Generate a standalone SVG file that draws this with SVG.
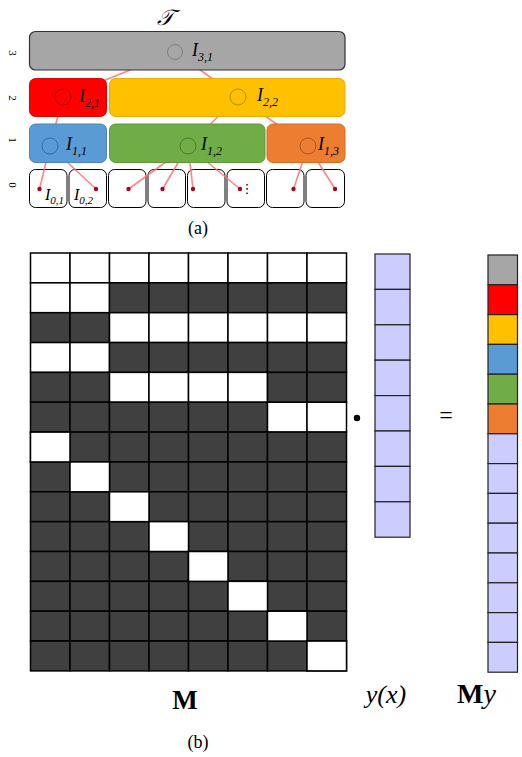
<svg xmlns="http://www.w3.org/2000/svg" width="522" height="757" viewBox="0 0 522 757">
<style>
.lbl{font-family:"Liberation Serif","DejaVu Serif",serif;font-style:italic;fill:#000}
.lvl{font-family:"Liberation Serif",serif;font-size:11px;fill:#000}
.cap{font-family:"Liberation Serif",serif;font-size:18px;fill:#000}
.leaf{fill:#fff;stroke:#000;stroke-width:1}
.hc{fill:none;stroke-width:1}
.edge{stroke:#ff7070;stroke-width:1.6;stroke-opacity:0.85;fill:none}
.pt{fill:#b00020}
.w{fill:#fff;stroke:#000;stroke-width:1.5}
.d{fill:#404040;stroke:#000;stroke-width:1.5}
.yv{fill:#ccccff;stroke:#222;stroke-width:1.2}
.mv{stroke:#222;stroke-width:1.2}
</style>
<rect width="522" height="757" fill="#fff"/>

<text x="157" y="25" font-family="DejaVu Serif, serif" font-size="22" font-style="italic">𝒯</text>

<g id="levels">
<text class="lvl" transform="translate(9,53) rotate(90)" text-anchor="middle">3</text>
<text class="lvl" transform="translate(9,98) rotate(90)" text-anchor="middle">2</text>
<text class="lvl" transform="translate(9,140) rotate(90)" text-anchor="middle">1</text>
<text class="lvl" transform="translate(9,185) rotate(90)" text-anchor="middle">0</text>
</g>

<g id="leaves">
<rect class="leaf" x="29.5" y="169.5" width="37.5" height="38" rx="6"/>
<rect class="leaf" x="69" y="169.5" width="37.5" height="38" rx="6"/>
<rect class="leaf" x="108.5" y="169.5" width="37.5" height="38" rx="6"/>
<rect class="leaf" x="148" y="169.5" width="37.5" height="38" rx="6"/>
<rect class="leaf" x="187.5" y="169.5" width="37.5" height="38" rx="6"/>
<rect class="leaf" x="227" y="169.5" width="37.5" height="38" rx="6"/>
<rect class="leaf" x="266.5" y="169.5" width="37.5" height="38" rx="6"/>
<rect class="leaf" x="306" y="169.5" width="38.5" height="38" rx="6"/>
<text class="lbl" x="45" y="200" font-size="16">I<tspan font-size="11" dy="4">0,1</tspan></text>
<text class="lbl" x="74" y="200" font-size="16">I<tspan font-size="11" dy="4">0,2</tspan></text>
<text x="247" y="193" font-family="DejaVu Sans, sans-serif" font-size="13" text-anchor="middle">⋮</text>
</g>

<g id="connectors">
<line class="edge" x1="175" y1="52" x2="63" y2="97"/>
<line class="edge" x1="175" y1="52" x2="238" y2="97"/>
<line class="edge" x1="63" y1="97" x2="50" y2="146"/>
<line class="edge" x1="238" y1="97" x2="188" y2="146"/>
<line class="edge" x1="238" y1="97" x2="308" y2="146"/>
<line class="edge" x1="50" y1="146" x2="39.5" y2="189"/>
<line class="edge" x1="50" y1="146" x2="96" y2="189"/>
<line class="edge" x1="188" y1="146" x2="128.5" y2="189"/>
<line class="edge" x1="188" y1="146" x2="162.5" y2="189"/>
<line class="edge" x1="188" y1="146" x2="193" y2="189"/>
<line class="edge" x1="188" y1="146" x2="240" y2="189"/>
<line class="edge" x1="308" y1="146" x2="293.5" y2="189"/>
<line class="edge" x1="308" y1="146" x2="335" y2="189"/>
<circle class="pt" cx="39.5" cy="189" r="2.2"/>
<circle class="pt" cx="96" cy="189" r="2.2"/>
<circle class="pt" cx="128.5" cy="189" r="2.2"/>
<circle class="pt" cx="162.5" cy="189" r="2.2"/>
<circle class="pt" cx="193" cy="189" r="2.2"/>
<circle class="pt" cx="240" cy="189" r="2.2"/>
<circle class="pt" cx="293.5" cy="189" r="2.2"/>
<circle class="pt" cx="335" cy="189" r="2.2"/>
</g>

<g id="I31">
<rect x="29.5" y="31.5" width="315.5" height="38.5" rx="6" fill="#a6a6a6" stroke="#333" stroke-width="1.2"/>
<circle class="hc" cx="175" cy="52" r="7.5" stroke="#808080"/>
<text class="lbl" x="192" y="56" font-size="18">I<tspan font-size="12" dy="5">3,1</tspan></text>
</g>
<g id="I21">
<rect x="29.5" y="78.5" width="77" height="38" rx="6" fill="#ff0000" stroke="#e00000"/>
<circle class="hc" cx="63" cy="97" r="8" stroke="#a00000"/>
<text class="lbl" x="79" y="102" font-size="18">I<tspan font-size="12" dy="5">2,1</tspan></text>
</g>
<g id="I22">
<rect x="109.5" y="78.5" width="235.5" height="38" rx="6" fill="#ffc000" stroke="#e8ad00"/>
<circle class="hc" cx="238" cy="97" r="8" stroke="#b08a00"/>
<text class="lbl" x="257" y="101" font-size="18">I<tspan font-size="12" dy="5">2,2</tspan></text>
</g>
<g id="I11">
<rect x="29.5" y="124" width="77" height="38.5" rx="6" fill="#5b9bd5" stroke="#4a86c0"/>
<circle class="hc" cx="50" cy="146" r="8" stroke="#3a6a98"/>
<text class="lbl" x="66" y="150" font-size="18">I<tspan font-size="12" dy="5">1,1</tspan></text>
</g>
<g id="I12">
<rect x="109.5" y="124" width="155.5" height="38.5" rx="6" fill="#70ad47" stroke="#5e9838"/>
<circle class="hc" cx="188" cy="146" r="8" stroke="#4a7a2e"/>
<text class="lbl" x="201" y="150" font-size="18">I<tspan font-size="12" dy="5">1,2</tspan></text>
</g>
<g id="I13">
<rect x="267" y="124" width="78" height="38.5" rx="6" fill="#ed7d31" stroke="#d56a22"/>
<circle class="hc" cx="308" cy="146" r="8" stroke="#a85420"/>
<text class="lbl" x="318" y="150" font-size="18">I<tspan font-size="12" dy="5">1,3</tspan></text>
</g>

<text class="cap" x="198" y="234" text-anchor="middle">(a)</text>

<g id="M">
<rect class="w" x="30.5" y="253" width="39.5" height="29.85"/><rect class="w" x="70" y="253" width="39.5" height="29.85"/><rect class="w" x="109.5" y="253" width="39.5" height="29.85"/><rect class="w" x="149" y="253" width="39.5" height="29.85"/><rect class="w" x="188.5" y="253" width="39.5" height="29.85"/><rect class="w" x="228" y="253" width="39.5" height="29.85"/><rect class="w" x="267.5" y="253" width="39.5" height="29.85"/><rect class="w" x="307" y="253" width="39.5" height="29.85"/>
<rect class="w" x="30.5" y="282.85" width="39.5" height="29.85"/><rect class="w" x="70" y="282.85" width="39.5" height="29.85"/><rect class="d" x="109.5" y="282.85" width="39.5" height="29.85"/><rect class="d" x="149" y="282.85" width="39.5" height="29.85"/><rect class="d" x="188.5" y="282.85" width="39.5" height="29.85"/><rect class="d" x="228" y="282.85" width="39.5" height="29.85"/><rect class="d" x="267.5" y="282.85" width="39.5" height="29.85"/><rect class="d" x="307" y="282.85" width="39.5" height="29.85"/>
<rect class="d" x="30.5" y="312.7" width="39.5" height="29.85"/><rect class="d" x="70" y="312.7" width="39.5" height="29.85"/><rect class="w" x="109.5" y="312.7" width="39.5" height="29.85"/><rect class="w" x="149" y="312.7" width="39.5" height="29.85"/><rect class="w" x="188.5" y="312.7" width="39.5" height="29.85"/><rect class="w" x="228" y="312.7" width="39.5" height="29.85"/><rect class="w" x="267.5" y="312.7" width="39.5" height="29.85"/><rect class="w" x="307" y="312.7" width="39.5" height="29.85"/>
<rect class="w" x="30.5" y="342.55" width="39.5" height="29.85"/><rect class="w" x="70" y="342.55" width="39.5" height="29.85"/><rect class="d" x="109.5" y="342.55" width="39.5" height="29.85"/><rect class="d" x="149" y="342.55" width="39.5" height="29.85"/><rect class="d" x="188.5" y="342.55" width="39.5" height="29.85"/><rect class="d" x="228" y="342.55" width="39.5" height="29.85"/><rect class="d" x="267.5" y="342.55" width="39.5" height="29.85"/><rect class="d" x="307" y="342.55" width="39.5" height="29.85"/>
<rect class="d" x="30.5" y="372.4" width="39.5" height="29.85"/><rect class="d" x="70" y="372.4" width="39.5" height="29.85"/><rect class="w" x="109.5" y="372.4" width="39.5" height="29.85"/><rect class="w" x="149" y="372.4" width="39.5" height="29.85"/><rect class="w" x="188.5" y="372.4" width="39.5" height="29.85"/><rect class="w" x="228" y="372.4" width="39.5" height="29.85"/><rect class="d" x="267.5" y="372.4" width="39.5" height="29.85"/><rect class="d" x="307" y="372.4" width="39.5" height="29.85"/>
<rect class="d" x="30.5" y="402.25" width="39.5" height="29.85"/><rect class="d" x="70" y="402.25" width="39.5" height="29.85"/><rect class="d" x="109.5" y="402.25" width="39.5" height="29.85"/><rect class="d" x="149" y="402.25" width="39.5" height="29.85"/><rect class="d" x="188.5" y="402.25" width="39.5" height="29.85"/><rect class="d" x="228" y="402.25" width="39.5" height="29.85"/><rect class="w" x="267.5" y="402.25" width="39.5" height="29.85"/><rect class="w" x="307" y="402.25" width="39.5" height="29.85"/>
<rect class="d" x="30.5" y="432.1" width="39.5" height="29.85"/><rect class="d" x="70" y="432.1" width="39.5" height="29.85"/><rect class="d" x="109.5" y="432.1" width="39.5" height="29.85"/><rect class="d" x="149" y="432.1" width="39.5" height="29.85"/><rect class="d" x="188.5" y="432.1" width="39.5" height="29.85"/><rect class="d" x="228" y="432.1" width="39.5" height="29.85"/><rect class="d" x="267.5" y="432.1" width="39.5" height="29.85"/><rect class="d" x="307" y="432.1" width="39.5" height="29.85"/>
<rect class="d" x="30.5" y="461.95" width="39.5" height="29.85"/><rect class="d" x="70" y="461.95" width="39.5" height="29.85"/><rect class="d" x="109.5" y="461.95" width="39.5" height="29.85"/><rect class="d" x="149" y="461.95" width="39.5" height="29.85"/><rect class="d" x="188.5" y="461.95" width="39.5" height="29.85"/><rect class="d" x="228" y="461.95" width="39.5" height="29.85"/><rect class="d" x="267.5" y="461.95" width="39.5" height="29.85"/><rect class="d" x="307" y="461.95" width="39.5" height="29.85"/>
<rect class="d" x="30.5" y="491.8" width="39.5" height="29.85"/><rect class="d" x="70" y="491.8" width="39.5" height="29.85"/><rect class="d" x="109.5" y="491.8" width="39.5" height="29.85"/><rect class="d" x="149" y="491.8" width="39.5" height="29.85"/><rect class="d" x="188.5" y="491.8" width="39.5" height="29.85"/><rect class="d" x="228" y="491.8" width="39.5" height="29.85"/><rect class="d" x="267.5" y="491.8" width="39.5" height="29.85"/><rect class="d" x="307" y="491.8" width="39.5" height="29.85"/>
<rect class="d" x="30.5" y="521.65" width="39.5" height="29.85"/><rect class="d" x="70" y="521.65" width="39.5" height="29.85"/><rect class="d" x="109.5" y="521.65" width="39.5" height="29.85"/><rect class="d" x="149" y="521.65" width="39.5" height="29.85"/><rect class="d" x="188.5" y="521.65" width="39.5" height="29.85"/><rect class="d" x="228" y="521.65" width="39.5" height="29.85"/><rect class="d" x="267.5" y="521.65" width="39.5" height="29.85"/><rect class="d" x="307" y="521.65" width="39.5" height="29.85"/>
<rect class="d" x="30.5" y="551.5" width="39.5" height="29.85"/><rect class="d" x="70" y="551.5" width="39.5" height="29.85"/><rect class="d" x="109.5" y="551.5" width="39.5" height="29.85"/><rect class="d" x="149" y="551.5" width="39.5" height="29.85"/><rect class="d" x="188.5" y="551.5" width="39.5" height="29.85"/><rect class="d" x="228" y="551.5" width="39.5" height="29.85"/><rect class="d" x="267.5" y="551.5" width="39.5" height="29.85"/><rect class="d" x="307" y="551.5" width="39.5" height="29.85"/>
<rect class="d" x="30.5" y="581.35" width="39.5" height="29.85"/><rect class="d" x="70" y="581.35" width="39.5" height="29.85"/><rect class="d" x="109.5" y="581.35" width="39.5" height="29.85"/><rect class="d" x="149" y="581.35" width="39.5" height="29.85"/><rect class="d" x="188.5" y="581.35" width="39.5" height="29.85"/><rect class="d" x="228" y="581.35" width="39.5" height="29.85"/><rect class="d" x="267.5" y="581.35" width="39.5" height="29.85"/><rect class="d" x="307" y="581.35" width="39.5" height="29.85"/>
<rect class="d" x="30.5" y="611.2" width="39.5" height="29.85"/><rect class="d" x="70" y="611.2" width="39.5" height="29.85"/><rect class="d" x="109.5" y="611.2" width="39.5" height="29.85"/><rect class="d" x="149" y="611.2" width="39.5" height="29.85"/><rect class="d" x="188.5" y="611.2" width="39.5" height="29.85"/><rect class="d" x="228" y="611.2" width="39.5" height="29.85"/><rect class="d" x="267.5" y="611.2" width="39.5" height="29.85"/><rect class="d" x="307" y="611.2" width="39.5" height="29.85"/>
<rect class="d" x="30.5" y="641.05" width="39.5" height="29.85"/><rect class="d" x="70" y="641.05" width="39.5" height="29.85"/><rect class="d" x="109.5" y="641.05" width="39.5" height="29.85"/><rect class="d" x="149" y="641.05" width="39.5" height="29.85"/><rect class="d" x="188.5" y="641.05" width="39.5" height="29.85"/><rect class="d" x="228" y="641.05" width="39.5" height="29.85"/><rect class="d" x="267.5" y="641.05" width="39.5" height="29.85"/><rect class="d" x="307" y="641.05" width="39.5" height="29.85"/>
<rect class="w" x="30.5" y="432.1" width="39.5" height="29.85"/>
<rect class="w" x="70" y="461.95" width="39.5" height="29.85"/>
<rect class="w" x="109.5" y="491.8" width="39.5" height="29.85"/>
<rect class="w" x="149" y="521.65" width="39.5" height="29.85"/>
<rect class="w" x="188.5" y="551.5" width="39.5" height="29.85"/>
<rect class="w" x="228" y="581.35" width="39.5" height="29.85"/>
<rect class="w" x="267.5" y="611.2" width="39.5" height="29.85"/>
<rect class="w" x="307" y="641.05" width="39.5" height="29.85"/>
</g>

<circle cx="357" cy="418" r="3.2" fill="#000"/>

<g id="yx">
<rect class="yv" x="375" y="254" width="35" height="35.4"/>
<rect class="yv" x="375" y="289.4" width="35" height="35.4"/>
<rect class="yv" x="375" y="324.8" width="35" height="35.4"/>
<rect class="yv" x="375" y="360.2" width="35" height="35.4"/>
<rect class="yv" x="375" y="395.6" width="35" height="35.4"/>
<rect class="yv" x="375" y="431" width="35" height="35.4"/>
<rect class="yv" x="375" y="466.4" width="35" height="35.4"/>
<rect class="yv" x="375" y="501.8" width="35" height="35.4"/>
</g>

<text x="446" y="423" font-family="Liberation Serif, serif" font-size="24" text-anchor="middle">=</text>

<g id="My">
<rect class="mv" x="488" y="255" width="29.5" height="29.8" fill="#a6a6a6"/>
<rect class="mv" x="488" y="284.8" width="29.5" height="29.8" fill="#ff0000"/>
<rect class="mv" x="488" y="314.6" width="29.5" height="29.8" fill="#ffc000"/>
<rect class="mv" x="488" y="344.4" width="29.5" height="29.8" fill="#5b9bd5"/>
<rect class="mv" x="488" y="374.2" width="29.5" height="29.8" fill="#70ad47"/>
<rect class="mv" x="488" y="404" width="29.5" height="29.8" fill="#ed7d31"/>
<rect class="yv" x="488" y="433.8" width="29.5" height="29.8"/>
<rect class="yv" x="488" y="463.6" width="29.5" height="29.8"/>
<rect class="yv" x="488" y="493.4" width="29.5" height="29.8"/>
<rect class="yv" x="488" y="523.2" width="29.5" height="29.8"/>
<rect class="yv" x="488" y="553" width="29.5" height="29.8"/>
<rect class="yv" x="488" y="582.8" width="29.5" height="29.8"/>
<rect class="yv" x="488" y="612.6" width="29.5" height="29.8"/>
<rect class="yv" x="488" y="642.4" width="29.5" height="29.8"/>
</g>

<text x="185" y="709" font-family="Liberation Serif, serif" font-size="27" font-weight="bold" text-anchor="middle">M</text>
<text x="386" y="703" font-family="Liberation Serif, serif" font-size="26" font-style="italic" text-anchor="middle">y(x)</text>
<text x="457" y="703" font-family="Liberation Serif, serif" font-size="28"><tspan font-weight="bold">M</tspan><tspan font-style="italic">y</tspan></text>
<text class="cap" x="198" y="748" text-anchor="middle">(b)</text>
</svg>
